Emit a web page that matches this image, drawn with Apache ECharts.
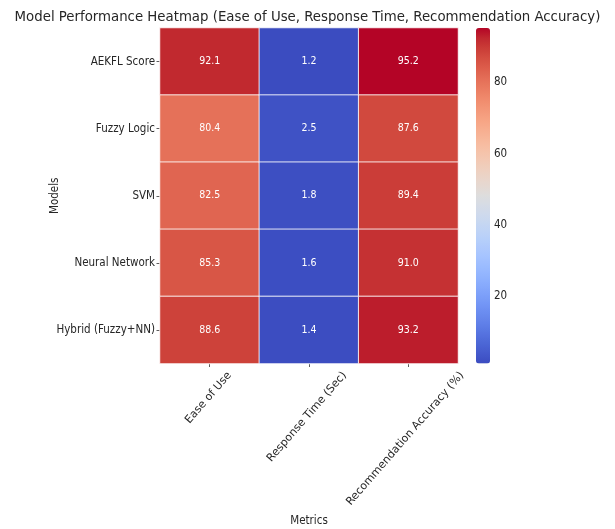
<!DOCTYPE html>
<html>
<head>
<meta charset="utf-8">
<script src="https://cdn.jsdelivr.net/npm/echarts@6/dist/echarts.min.js"></script>
<style>
  html, body { margin: 0; padding: 0; background: #fff; }
  #chart { width: 615px; height: 529px; }
</style>
</head>
<body>
<div id="chart"></div>
<script>
// Heatmap data: rows are models, columns are metrics
const models = ['AEKFL Score', 'Fuzzy Logic', 'SVM', 'Neural Network', 'Hybrid (Fuzzy+NN)'];
const metrics = ['Ease of Use', 'Response Time (Sec)', 'Recommendation Accuracy (%)'];
const easeOfUse = [92.1, 80.4, 82.5, 85.3, 88.6];
const responseTime = [1.2, 2.5, 1.8, 1.6, 1.4];
const recommendationAccuracy = [95.2, 87.6, 89.4, 91.0, 93.2];
const colorbarTicks = [20, 40, 60, 80];

// Diverging blue-white-red ramp (cool to warm)
const coolwarm = [
  [59,76,192],[68,90,204],[77,104,215],[87,117,225],[98,130,234],[108,142,241],
  [119,154,247],[130,165,251],[141,176,254],[152,185,255],[163,194,255],[174,201,253],
  [184,208,249],[194,213,244],[204,217,238],[213,219,230],[221,221,221],[229,216,209],
  [236,211,197],[241,204,184],[245,196,172],[247,187,159],[247,177,147],[247,166,134],
  [244,154,123],[241,141,111],[236,127,99],[229,112,89],[222,96,77],[213,80,66],
  [203,62,56],[192,40,47],[180,4,38]
].map(c => 'rgb(' + c.join(',') + ')');

const columns = [easeOfUse, responseTime, recommendationAccuracy];
const data = [];
columns.forEach((col, xi) => col.forEach((v, yi) => data.push([xi, yi, v])));
const all = columns.flat();
const vMin = Math.min(...all), vMax = Math.max(...all);

const FONT = '"DejaVu Sans Condensed", "DejaVu Sans", sans-serif';
const XFONT = '"DejaVu Sans", sans-serif';
const TICK_FS = 11.5;
const XTICK_FS = 11;
const TEXT = '#262626';

// Rotated x labels: shift each label so its rotated box sits centred under its tick
const ROT = 49;
const th = ROT * Math.PI / 180;
const ctx = document.createElement('canvas').getContext('2d');
ctx.font = XTICK_FS + 'px ' + XFONT;
const rich = {};
metrics.forEach((m, i) => {
  const w = ctx.measureText(m).width;
  rich['m' + i] = {
    fontSize: XTICK_FS, fontFamily: XFONT, color: TEXT,
    padding: [0.62 * w * Math.sin(th), w * (1 - 0.62 * Math.cos(th)), 0, 0]
  };
});

const grid = { left: 160, top: 28, width: 298, height: 335.5, outerBoundsMode: 'none', containLabel: false };
const bar = { left: 476, top: 28, width: 14, height: 335.5, outerBoundsMode: 'none', containLabel: false };
const tickStyle = { color: '#333', width: 0.8 };

const chart = echarts.init(document.getElementById('chart'), null, { renderer: 'canvas' });
chart.setOption({
  animation: false,
  backgroundColor: '#fff',
  title: {
    text: 'Model Performance Heatmap (Ease of Use, Response Time, Recommendation Accuracy)',
    left: 'center', top: 5,
    textStyle: { fontFamily: FONT, fontSize: 14.8, fontWeight: 'normal', color: TEXT }
  },
  grid: [grid, bar],
  xAxis: [
    {
      type: 'category', data: metrics, gridIndex: 0, position: 'bottom',
      name: 'Metrics', nameLocation: 'middle', nameGap: 152, nameMoveOverlap: false,
      nameTextStyle: { fontFamily: FONT, fontSize: TICK_FS, color: TEXT },
      axisLine: { show: false },
      axisTick: { show: true, alignWithLabel: true, length: 3.5, lineStyle: tickStyle },
      splitLine: { show: false },
      axisLabel: {
        interval: 0, rotate: ROT, margin: 10, hideOverlap: false,
        align: 'center', verticalAlign: 'middle',
        formatter: (v, i) => '{m' + i + '|' + v + '}',
        rich: rich
      }
    },
    { type: 'value', gridIndex: 1, show: false, min: 0, max: 1 }
  ],
  yAxis: [
    {
      type: 'category', data: models, gridIndex: 0, inverse: true,
      name: 'Models', nameLocation: 'middle', nameGap: 99, nameRotate: 90, nameMoveOverlap: false,
      nameTextStyle: { fontFamily: FONT, fontSize: TICK_FS, color: TEXT },
      axisLine: { show: false },
      axisTick: { show: true, alignWithLabel: true, length: 3.5, lineStyle: tickStyle },
      splitLine: { show: false },
      axisLabel: { interval: 0, margin: 5, fontFamily: FONT, fontSize: TICK_FS, color: TEXT }
    },
    {
      // Colorbar scale
      type: 'value', gridIndex: 1, position: 'right', min: vMin, max: vMax,
      axisLine: { show: false },
      splitLine: { show: false },
      axisTick: { show: true, length: 3.5, customValues: colorbarTicks, lineStyle: tickStyle },
      axisLabel: { margin: 4, customValues: colorbarTicks, fontFamily: FONT, fontSize: TICK_FS, color: TEXT }
    }
  ],
  visualMap: {
    type: 'continuous', min: vMin, max: vMax, dimension: 2, seriesIndex: 0,
    calculable: false, show: true, orient: 'vertical',
    left: bar.left, top: bar.top, itemWidth: bar.width, itemHeight: bar.height,
    padding: 0, text: null, showLabel: false, hoverLink: false,
    inRange: { color: coolwarm }
  },
  series: [{
    type: 'heatmap', xAxisIndex: 0, yAxisIndex: 0, data: data,
    itemStyle: { borderColor: 'rgba(255,255,255,0.85)', borderWidth: 1 },
    label: {
      show: true, color: '#fff', fontFamily: FONT, fontSize: 10.5,
      formatter: p => p.value[2].toFixed(1)
    },
    emphasis: { disabled: true }
  }]
});
</script>
</body>
</html>
